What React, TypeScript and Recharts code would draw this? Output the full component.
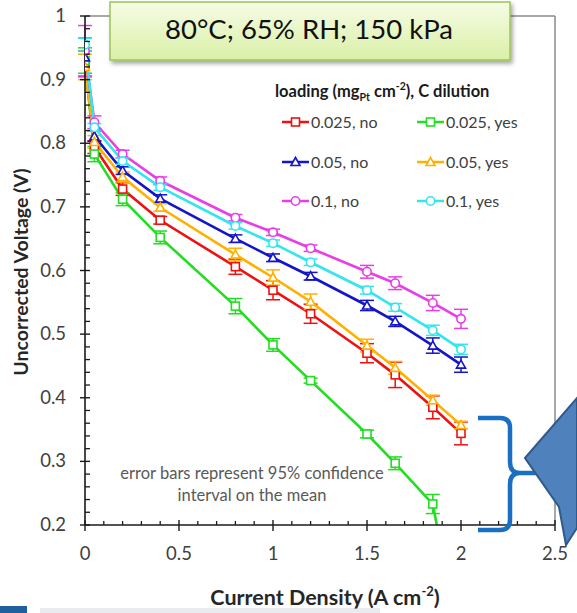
import React from 'react';
import { LineChart, Line, XAxis, YAxis, ErrorBar, ReferenceLine } from 'recharts';

// Current density (A cm^-2) at which each polarization point was taken
const CURRENT = [0, 0.05, 0.2, 0.4, 0.8, 1.0, 1.2, 1.5, 1.65, 1.85, 2.0];

// Uncorrected cell voltage (V) and 95% CI half-widths per loading / dilution case
const V_0025_NO = [0.925, 0.794, 0.728, 0.679, 0.606, 0.569, 0.532, 0.47, 0.436, 0.385, 0.344];
const E_0025_NO = [0.02, 0.01, 0.01, 0.006, 0.012, 0.015, 0.015, 0.015, 0.02, 0.018, 0.018];

const V_0025_YES = [0.93, 0.783, 0.712, 0.652, 0.544, 0.483, 0.427, 0.343, 0.297, 0.233, 0.0];
const E_0025_YES = [0.02, 0.012, 0.01, 0.01, 0.012, 0.01, 0.004, 0.006, 0.01, 0.015, 0];

const V_005_NO = [0.935, 0.811, 0.757, 0.713, 0.65, 0.62, 0.591, 0.545, 0.52, 0.482, 0.452];
const E_005_NO = [0.03, 0.008, 0.006, 0.006, 0.006, 0.006, 0.006, 0.008, 0.008, 0.012, 0.012];

const V_005_YES = [0.92, 0.802, 0.747, 0.699, 0.625, 0.589, 0.551, 0.482, 0.447, 0.396, 0.357];
const E_005_YES = [0.02, 0.01, 0.008, 0.006, 0.01, 0.012, 0.012, 0.01, 0.01, 0.008, 0.006];

const V_01_NO = [0.945, 0.833, 0.783, 0.741, 0.683, 0.66, 0.635, 0.598, 0.58, 0.549, 0.524];
const E_01_NO = [0.04, 0.01, 0.006, 0.006, 0.005, 0.005, 0.005, 0.01, 0.01, 0.012, 0.015];

const V_01_YES = [0.955, 0.825, 0.772, 0.731, 0.67, 0.643, 0.613, 0.569, 0.542, 0.506, 0.476];
const E_01_YES = [0.01, 0.006, 0.005, 0.005, 0.005, 0.005, 0.005, 0.006, 0.006, 0.008, 0.008];

const X_TICKS = [0, 0.1, 0.2, 0.3, 0.4, 0.5, 0.6, 0.7, 0.8, 0.9, 1.0, 1.1, 1.2, 1.3, 1.4, 1.5, 1.6, 1.7, 1.8, 1.9, 2.0, 2.1, 2.2, 2.3, 2.4, 2.5];
const Y_TICKS = [0.2, 0.22, 0.24, 0.26, 0.28, 0.3, 0.32, 0.34, 0.36, 0.38, 0.4, 0.42, 0.44, 0.46, 0.48, 0.5, 0.52, 0.54, 0.56, 0.58, 0.6, 0.62, 0.64, 0.66, 0.68, 0.7, 0.72, 0.74, 0.76, 0.78, 0.8, 0.82, 0.84, 0.86, 0.88, 0.9, 0.92, 0.94, 0.96, 0.98, 1.0];

const FONT = 'Lato, "Open Sans", sans-serif';
const AXIS_COLOR = '#1a1a1a';
const LABEL_COLOR = '#404040';

type Shape = 'square' | 'triangle' | 'circle';

interface SeriesDef {
  key: string;
  label: string;
  color: string;
  shape: Shape;
  values: number[];
  errors: number[];
}

const SERIES: SeriesDef[] = [
  { key: 'n0025', label: '0.025, no', color: '#ee1111', shape: 'square', values: V_0025_NO, errors: E_0025_NO },
  { key: 'y0025', label: '0.025, yes', color: '#22dd22', shape: 'square', values: V_0025_YES, errors: E_0025_YES },
  { key: 'n005', label: '0.05, no', color: '#1414c8', shape: 'triangle', values: V_005_NO, errors: E_005_NO },
  { key: 'y005', label: '0.05, yes', color: '#ffb000', shape: 'triangle', values: V_005_YES, errors: E_005_YES },
  { key: 'n01', label: '0.1, no', color: '#e83ee8', shape: 'circle', values: V_01_NO, errors: E_01_NO },
  { key: 'y01', label: '0.1, yes', color: '#33e6ee', shape: 'circle', values: V_01_YES, errors: E_01_YES },
];

function marker(shape: Shape, cx: number, cy: number, color: string, key?: string) {
  const common = { fill: '#ffffff', stroke: color, strokeWidth: 1.6 };
  if (shape === 'square') {
    return <rect key={key} x={cx - 4} y={cy - 4} width={8} height={8} {...common} />;
  }
  if (shape === 'triangle') {
    const pts = `${cx},${cy - 4.5} ${cx + 4.5},${cy + 3.5} ${cx - 4.5},${cy + 3.5}`;
    return <polygon key={key} points={pts} {...common} />;
  }
  return <circle key={key} cx={cx} cy={cy} r={4.2} {...common} />;
}

function makeDot(s: SeriesDef) {
  return (props: any) => {
    const { cx, cy, index } = props;
    const key = `${s.key}-dot-${index}`;
    if (cx == null || cy == null || Number.isNaN(cx) || Number.isNaN(cy)) return <g key={key} />;
    return marker(s.shape, cx, cy, s.color, key);
  };
}

const isMultiple = (v: number, step: number) => Math.abs(v / step - Math.round(v / step)) < 1e-6;

const XTick = (props: any) => {
  const { x, y, payload } = props;
  const v = payload.value as number;
  if (!isMultiple(v, 0.5)) {
    return <line x1={x} x2={x} y1={y} y2={y - 4} stroke={AXIS_COLOR} strokeWidth={1.3} />;
  }
  return (
    <g>
      <line x1={x} x2={x} y1={y - 5} y2={y + 6} stroke={AXIS_COLOR} strokeWidth={1.4} />
      <text x={x} y={y + 35} textAnchor="middle" fontFamily={FONT} fontSize={18.5} fill={LABEL_COLOR}>
        {String(Math.round(v * 10) / 10)}
      </text>
    </g>
  );
};

const YTick = (props: any) => {
  const { x, y, payload } = props;
  const v = payload.value as number;
  if (!isMultiple(v, 0.1)) {
    return <line x1={x} x2={x + 5} y1={y} y2={y} stroke={AXIS_COLOR} strokeWidth={1.3} />;
  }
  return (
    <g>
      <line x1={x - 5} x2={x + 5} y1={y} y2={y} stroke={AXIS_COLOR} strokeWidth={1.4} />
      <text x={x - 19} y={y + 6} textAnchor="end" fontFamily={FONT} fontSize={18.5} fill={LABEL_COLOR}>
        {String(Math.round(v * 10) / 10)}
      </text>
    </g>
  );
};

function Overlay() {
  const legendRows = [
    [SERIES[0], SERIES[1]],
    [SERIES[2], SERIES[3]],
    [SERIES[4], SERIES[5]],
  ];
  const rowY = [122, 162, 201];
  const colX = [282, 417];
  return (
    <svg width={577} height={613} style={{ position: 'absolute', left: 0, top: 0, pointerEvents: 'none' }}>
      <defs>
        <linearGradient id="titleFill" x1="0" y1="0" x2="0" y2="1">
          <stop offset="0%" stopColor="#f6fce6" />
          <stop offset="100%" stopColor="#d9f0a6" />
        </linearGradient>
        <filter id="boxShadow" x="-10%" y="-20%" width="130%" height="160%">
          <feDropShadow dx="2" dy="3" stdDeviation="2" floodColor="#000" floodOpacity="0.35" />
        </filter>
      </defs>

      {/* operating-condition banner */}
      <rect x={110} y={2} width={400} height={58} fill="url(#titleFill)" stroke="#9cc45a" strokeWidth={1.5} filter="url(#boxShadow)" />
      <text x={309} y={39} textAnchor="middle" fontFamily={FONT} fontSize={27.5} fill="#111">
        80°C; 65% RH; 150 kPa
      </text>

      {/* legend */}
      <text x={275} y={97} fontFamily={FONT} fontSize={16.5} fontWeight={700} fill="#1a1a1a">
        loading (mg
        <tspan fontSize={10.5} dy={4}>Pt</tspan>
        <tspan dy={-4}> cm</tspan>
        <tspan fontSize={10.5} dy={-7}>-2</tspan>
        <tspan dy={7}>), C dilution</tspan>
      </text>
      {legendRows.map((row, r) =>
        row.map((s, c) => {
          const x0 = colX[c];
          const y0 = rowY[r];
          return (
            <g key={s.key}>
              <line x1={x0} x2={x0 + 27} y1={y0} y2={y0} stroke={s.color} strokeWidth={2.5} />
              {marker(s.shape, x0 + 13.5, y0, s.color)}
              <text x={x0 + 29} y={y0 + 6} fontFamily={FONT} fontSize={16} fill={LABEL_COLOR}>
                {s.label}
              </text>
            </g>
          );
        })
      )}

      {/* error bar note */}
      <text x={252} y={479} textAnchor="middle" fontFamily={FONT} fontSize={16.5} fill="#595959">
        error bars represent 95% confidence
      </text>
      <text x={252} y={501} textAnchor="middle" fontFamily={FONT} fontSize={16.5} fill="#595959">
        interval on the mean
      </text>

      {/* bracket grouping the high-current points */}
      <path
        d="M478,418 L500,418 Q510,418 510,428 L510,462 Q510,473 520,473 L543,473 M520,473 Q510,473 510,484 L510,520 Q510,530 500,530 L478,530"
        fill="none"
        stroke="#1a6fc4"
        strokeWidth={4.5}
      />

      {/* call-out arrow */}
      <polygon points="525,458 577,398 577,528 566,545 559,507" fill="#4f81bd" stroke="#2f5a8a" strokeWidth={2} />

      {/* x-axis title */}
      <text x={325} y={605} textAnchor="middle" fontFamily={FONT} fontSize={21.5} fontWeight={700} fill="#262626">
        Current Density (A cm
        <tspan fontSize={13} dy={-9}>-2</tspan>
        <tspan dy={9}>)</tspan>
      </text>

      {/* y-axis title */}
      <text
        x={0}
        y={0}
        transform="translate(28,272) rotate(-90)"
        textAnchor="middle"
        fontFamily={FONT}
        fontSize={19.5}
        fontWeight={700}
        fill="#262626"
      >
        Uncorrected Voltage (V)
      </text>

      {/* strip along the bottom edge */}
      <rect x={0} y={606} width={27} height={7} fill="#1f5f9e" />
      <rect x={40} y={608} width={340} height={5} fill="#d3d7dd" opacity={0.5} />
    </svg>
  );
}

export default function App() {
  return (
    <div style={{ position: 'absolute', left: 0, top: 0, width: 577, height: 613, background: '#ffffff', overflow: 'hidden' }}>
      <LineChart width={577} height={613} margin={{ top: 16, right: 22, bottom: 0, left: 0 }}>
        <XAxis
          dataKey="x"
          type="number"
          domain={[0, 2.5]}
          allowDataOverflow
          ticks={X_TICKS}
          interval={0}
          tick={<XTick />}
          tickLine={false}
          tickSize={0}
          tickMargin={0}
          height={88}
          axisLine={{ stroke: AXIS_COLOR, strokeWidth: 1.6 }}
        />
        <YAxis
          type="number"
          domain={[0.2, 1]}
          allowDataOverflow
          ticks={Y_TICKS}
          interval={0}
          tick={<YTick />}
          tickLine={false}
          tickSize={0}
          tickMargin={0}
          width={85}
          axisLine={{ stroke: AXIS_COLOR, strokeWidth: 1.6 }}
        />
        <ReferenceLine y={1} stroke="#8a8a8a" strokeWidth={1.5} />
        <ReferenceLine x={2.5} stroke="#8a8a8a" strokeWidth={1.5} />
        {SERIES.map((s) => (
          <Line
            key={s.key}
            data={CURRENT.map((x, i) => ({ x, v: s.values[i], e: s.errors[i] }))}
            dataKey="v"
            type="linear"
            stroke={s.color}
            strokeWidth={2.6}
            dot={makeDot(s)}
            activeDot={false}
            isAnimationActive={false}
          >
            <ErrorBar dataKey="e" direction="y" width={7} stroke={s.color} strokeWidth={1.5} isAnimationActive={false} />
          </Line>
        ))}
      </LineChart>
      <Overlay />
    </div>
  );
}
